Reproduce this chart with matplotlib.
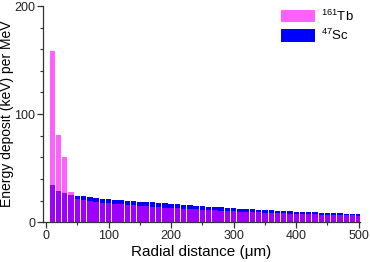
import numpy as np
import matplotlib.pyplot as plt
from matplotlib.ticker import MultipleLocator

plt.rcParams['font.family'] = ['Liberation Sans', 'DejaVu Sans']
plt.rcParams['mathtext.default'] = 'regular'

# radial bin centres (um)
radial = np.arange(10, 510, 10)

sc47 = [34.0, 28.4, 26.8, 25.5, 24.3, 23.8, 23.0, 22.4, 21.9, 21.2,
        20.8, 20.4, 19.9, 19.6, 19.0, 18.7, 18.3, 17.8, 17.4, 16.9,
        16.5, 16.1, 15.6, 15.2, 14.8, 14.4, 14.0, 13.6, 13.2, 12.9,
        12.6, 12.2, 11.9, 11.6, 11.2, 10.9, 10.6, 10.3, 10.1, 9.8,
        9.5, 9.3, 9.0, 8.8, 8.6, 8.3, 8.1, 7.9, 7.7, 7.5]

tb161 = [158.5, 81.0, 60.0, 28.3, 21.0, 20.2, 19.4, 18.8, 18.2, 17.6,
         17.1, 16.6, 16.1, 15.6, 15.1, 14.7, 14.3, 13.9, 13.5, 13.1,
         12.8, 12.5, 12.1, 11.8, 11.5, 11.2, 10.9, 10.6, 10.3, 10.1,
         9.8, 9.6, 9.3, 9.1, 8.9, 8.7, 8.4, 8.2, 8.0, 7.8,
         7.6, 7.4, 7.2, 7.1, 6.9, 6.7, 6.6, 6.4, 6.3, 6.1]

fig = plt.figure(figsize=(3.7, 2.62), dpi=100)
ax = fig.add_axes([0.116, 0.152, 0.857, 0.825])

ax.bar(radial, sc47, width=8.6, color='#0000ff', label=r'$^{47}$Sc')
ax.bar(radial, tb161, width=8.6, color='#ff00ff', alpha=0.62, label=r'$^{161}$Tb')

ax.set_xlim(-5, 502)
ax.set_ylim(0, 200)
ax.xaxis.set_major_locator(MultipleLocator(100))
ax.xaxis.set_minor_locator(MultipleLocator(50))
ax.yaxis.set_major_locator(MultipleLocator(100))
ax.yaxis.set_minor_locator(MultipleLocator(20))

for side in ['top', 'right']:
    ax.spines[side].set_visible(False)
for side in ['left', 'bottom']:
    ax.spines[side].set_color('#333333')
    ax.spines[side].set_linewidth(0.9)

ax.tick_params(which='major', direction='out', length=4, width=0.9,
               labelsize=9, colors='#333333', labelcolor='#222222', pad=1.5)
ax.tick_params(which='minor', direction='out', length=2.5, width=0.8, colors='#333333')

ax.set_xlabel('Radial distance (\u03bcm)', fontsize=11, labelpad=2)
ax.set_ylabel('Energy deposit (keV) per MeV', fontsize=10)
ax.yaxis.set_label_coords(-0.09, 0.5)

handles, labels = ax.get_legend_handles_labels()
ax.legend(handles[::-1], labels[::-1], loc='upper right', frameon=False,
          fontsize=9.5, handlelength=2.6, handleheight=1.1,
          handletextpad=0.4, labelspacing=0.3, borderaxespad=0.1,
          bbox_to_anchor=(1.0, 1.02))

plt.savefig('out.png', dpi=100)
plt.close()
